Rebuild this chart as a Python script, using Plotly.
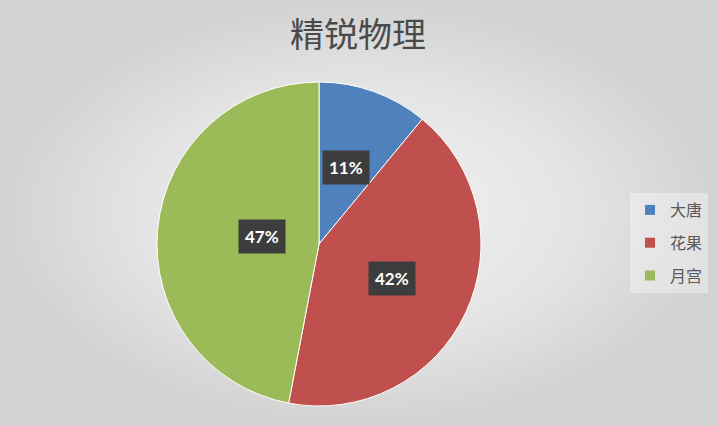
import numpy as np
import plotly.graph_objects as go

title = "精锐物理"
labels = ["大唐", "花果", "月宫"]
values = [11, 42, 47]
colors = ["#4F81BD", "#C0504D", "#9BBB59"]

W, H = 718, 426
# pie domain (paper coords)
dom_x = [157 / W, 481 / W]
dom_y = [20 / H, 344 / H]

fig = go.Figure()

# background radial gradient
fig.add_trace(go.Scatter(
    x=[0, 1, 1, 0, 0], y=[0, 0, 1, 1, 0],
    mode="lines", line=dict(width=0), fill="toself",
    fillgradient=dict(type="radial",
                      colorscale=[[0, "#f4f4f4"], [0.6, "#e4e4e4"], [1, "#d2d2d2"]]),
    hoverinfo="skip", showlegend=False,
))

fig.add_trace(go.Pie(
    labels=labels, values=values, sort=False, direction="clockwise", rotation=0,
    marker=dict(colors=colors, line=dict(color="white", width=1)),
    textinfo="none", domain=dict(x=dom_x, y=dom_y), showlegend=False,
    hoverinfo="label+percent",
))

# legend entries
for lab, col in zip(labels, colors):
    fig.add_trace(go.Scatter(
        x=[None], y=[None], mode="markers", name=lab, legendgroup=lab,
        marker=dict(symbol="square", size=10, color=col),
    ))

# percent labels placed at mid-angle, half radius
total = sum(values)
cx = (dom_x[0] + dom_x[1]) / 2
cy = (dom_y[0] + dom_y[1]) / 2
R_px = (dom_x[1] - dom_x[0]) * W / 2
cum = 0
for v in values:
    mid = (cum + v / 2) / total * 2 * np.pi
    cum += v
    px_ = cx + 0.5 * R_px * np.sin(mid) / W
    py_ = cy + 0.5 * R_px * np.cos(mid) / H
    fig.add_annotation(
        x=px_, y=py_, xref="paper", yref="paper", showarrow=False,
        text=f"<b>{round(v / total * 100)}%</b>",
        font=dict(family="Lato, DejaVu Sans", size=17, color="white"),
        bgcolor="#3d3d3d", borderpad=6,
    )

fig.update_layout(
    width=W, height=H,
    margin=dict(l=0, r=0, t=0, b=0),
    paper_bgcolor="#e6e6e6", plot_bgcolor="rgba(0,0,0,0)",
    xaxis=dict(visible=False, range=[0, 1], domain=[0, 1], fixedrange=True),
    yaxis=dict(visible=False, range=[0, 1], domain=[0, 1], fixedrange=True),
    title=dict(text=title, x=0.4986, y=(H - 35) / H, xanchor="center", yanchor="middle",
               font=dict(family="Noto Sans CJK SC", size=34, color="#4a4a4a")),
    legend=dict(x=630 / W, y=(H - 193) / H, xanchor="left", yanchor="top",
                bgcolor="rgba(255,255,255,0.35)", tracegroupgap=9,
                traceorder="grouped",
                font=dict(family="Noto Sans CJK SC", size=16, color="#595959")),
    showlegend=True,
)

fig.write_html("out.html", config={"displayModeBar": False},
               post_script="document.body.style.margin='0';document.body.style.overflow='hidden';")
